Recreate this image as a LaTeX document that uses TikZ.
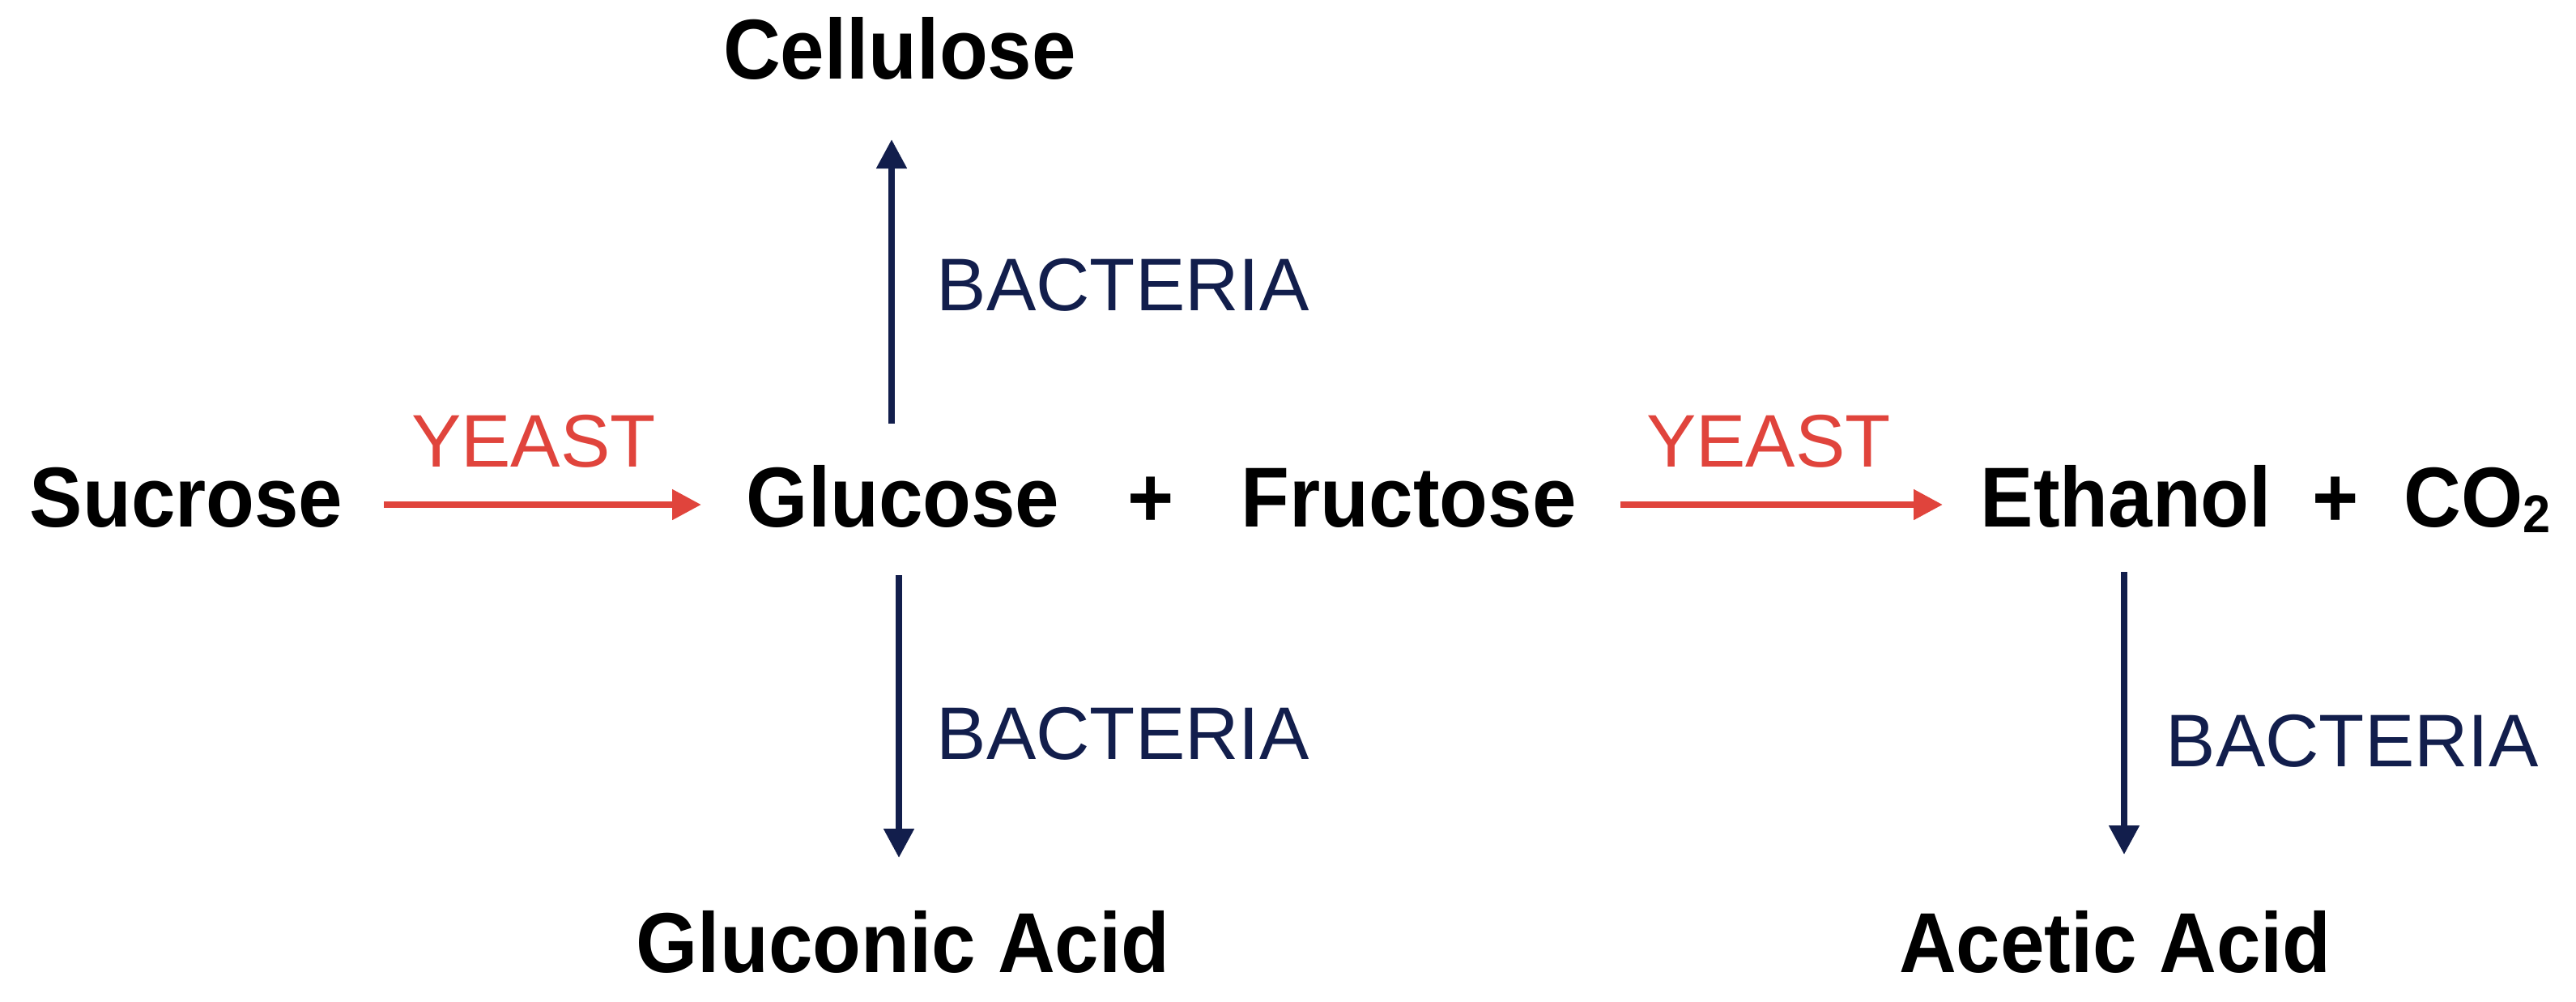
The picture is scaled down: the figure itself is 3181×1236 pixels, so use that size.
\documentclass[tikz,border=0pt]{standalone}
\usepackage{fontspec}
\setmainfont{Liberation Sans}
\newfontfamily\chemfont{Liberation Sans}[FakeStretch=0.933]
\usetikzlibrary{arrows.meta,calc}
\definecolor{yeastred}{HTML}{E0443C}
\definecolor{bactnavy}{HTML}{121E4C}
\tikzset{
  chem/.style={inner sep=0pt, font=\chemfont\fontsize{26.25pt}{30pt}\selectfont\bfseries, text=black},
  yeastlbl/.style={inner sep=0pt, font=\fontsize{23pt}{26pt}\selectfont, text=yeastred},
  bactlbl/.style={inner sep=0pt, font=\fontsize{23pt}{26pt}\selectfont, text=bactnavy},
  yeastarrow/.style={draw=yeastred, line width=2pt, -{Triangle[length=9pt,width=9pt]}},
  bactarrow/.style={draw=bactnavy, line width=2pt, -{Triangle[length=9pt,width=9pt]}}
}
\newcommand{\subtwo}{\raisebox{-1.75pt}{\fontsize{16.4pt}{17pt}\selectfont 2}}
\begin{document}
\begin{tikzpicture}[x=0.25pt,y=-0.25pt]
\useasboundingbox[fill=white] (0,0) rectangle (3181,1236);
% compounds
\node[chem, anchor=base west] (sucrose) at (36,650) {Sucrose};
\node[chem, anchor=base west] (glucose) at (921,650) {Glucose};
\node[chem, anchor=base] (plusa) at (1421,650) {+};
\node[chem, anchor=base west] (fructose) at (1532,650) {Fructose};
\node[chem, anchor=base west] (ethanol) at (2445,650) {Ethanol};
\node[chem, anchor=base] (plusb) at (2884,650) {+};
\node[chem, anchor=base west] (co2) at (2968,650) {CO\subtwo};
\node[chem, anchor=base] (cellulose) at (1111,97) {Cellulose};
\node[chem, anchor=base] (gluconic) at (1115,1200) {Gluconic Acid};
\node[chem, anchor=base] (acetic) at (2612,1200) {Acetic Acid};
% labels
\node[yeastlbl, anchor=base] (yeasta) at (659,576) {YEAST};
\node[yeastlbl, anchor=base] (yeastb) at (2184,576) {YEAST};
\node[bactlbl, anchor=base west] (bacta) at (1156,383) {BACTERIA};
\node[bactlbl, anchor=base west] (bactb) at (1156,937) {BACTERIA};
\node[bactlbl, anchor=base west] (bactc) at (2674,946) {BACTERIA};
% arrows
\draw[yeastarrow] ($(sucrose.base east)+(50,-27)$) -- ($(glucose.base west)+(-55,-27)$);
\draw[yeastarrow] ($(fructose.base east)+(54,-27)$) -- ($(ethanol.base west)+(-46,-27)$);
\draw[bactarrow] ($(glucose.base west)+(180,-127)$) -- ($(cellulose.base)+(-10,75)$);
\draw[bactarrow] ($(glucose.base west)+(189,60)$) -- ($(gluconic.base)+(-5,-141)$);
\draw[bactarrow] ($(ethanol.base west)+(178,56)$) -- ($(acetic.base)+(11,-145)$);
\end{tikzpicture}
\end{document}
